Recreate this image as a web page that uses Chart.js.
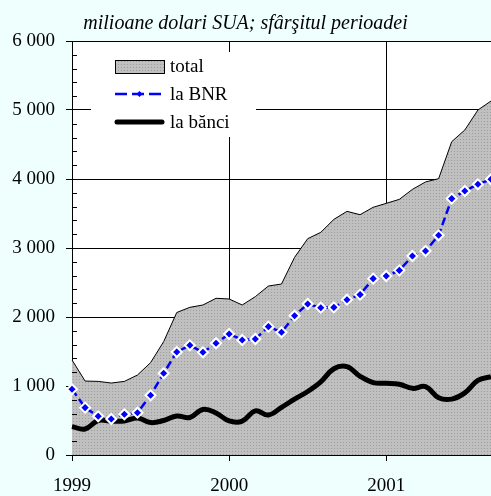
<!DOCTYPE html>
<html>
<head>
<meta charset="utf-8">
<script src="https://cdn.jsdelivr.net/npm/chart.js@4"></script>
<style>
  html, body { margin: 0; background: #eefffd; }
  #wrap { width: 491px; height: 496px; position: relative; }
</style>
</head>
<body>
<div id="wrap"><canvas id="chart"></canvas></div>
<script>
var months = [
  '1999-01', '1999-02', '1999-03', '1999-04', '1999-05', '1999-06', '1999-07', '1999-08', '1999-09', '1999-10', '1999-11', '1999-12',
  '2000-01', '2000-02', '2000-03', '2000-04', '2000-05', '2000-06', '2000-07', '2000-08', '2000-09', '2000-10', '2000-11', '2000-12',
  '2001-01', '2001-02', '2001-03', '2001-04', '2001-05', '2001-06', '2001-07', '2001-08', '2001-09'
];
var totalValues = [1377, 1072, 1067, 1043, 1067, 1159, 1338, 1643, 2065, 2140, 2174, 2271,
  2261, 2174, 2295, 2449, 2478, 2865, 3135, 3227, 3415, 3531, 3483, 3590,
  3647, 3705, 3850, 3957, 4005, 4541, 4710, 5000, 5130];
var bnrValues = [952, 686, 561, 522, 590, 613, 865, 1184, 1493, 1590, 1488, 1619,
  1754, 1667, 1681, 1860, 1778, 2019, 2188, 2135, 2140, 2251, 2324, 2556,
  2594, 2676, 2884, 2957, 3184, 3715, 3826, 3923, 3996];
var bankValues = [411, 377, 500, 490, 493, 536, 470, 500, 565, 543, 660, 609,
  493, 490, 640, 580, 690, 810, 920, 1060, 1250, 1280, 1140, 1050,
  1040, 1025, 966, 990, 830, 810, 900, 1080, 1135];
var seriesNames = ['total', 'la BNR', 'la b\u0103nci'];
var titleText = 'milioane dolari SUA; sf\u00e2r\u015fitul perioadei';

var FONT = '"Liberation Serif", "Times New Roman", serif';
Chart.defaults.font.family = FONT;
Chart.defaults.color = '#000';

// grey dotted fill like the old excel pattern
function makePattern() {
  var p = document.createElement('canvas');
  p.width = 3; p.height = 3;
  var g = p.getContext('2d');
  g.fillStyle = '#c0c0c0';
  g.fillRect(0, 0, 3, 3);
  g.fillStyle = '#9c9c9c';
  g.fillRect(1, 1, 1, 1);
  return g.createPattern(p, 'repeat');
}
var pattern = makePattern();

function isJanuary(i) {
  return months[i] && months[i].slice(5) === '01';
}

var decoPlugin = {
  id: 'deco',
  beforeDraw: function (chart) {
    var a = chart.chartArea, ctx = chart.ctx;
    ctx.save();
    ctx.fillStyle = '#fff';
    ctx.fillRect(a.left, a.top, a.right - a.left, a.bottom - a.top);
    ctx.restore();
  },
  beforeDatasetsDraw: function (chart) {
    // white legend box hides the grid behind it
    var a = chart.chartArea, ctx = chart.ctx;
    ctx.save();
    ctx.fillStyle = '#fff';
    ctx.fillRect(a.left + 19, a.top + 11, 165, 85);
    ctx.restore();
  },
  afterDatasetsDraw: function (chart) {
    var a = chart.chartArea, ctx = chart.ctx, y = chart.scales.y;
    ctx.save();
    ctx.strokeStyle = '#000';
    ctx.lineWidth = 1;
    ctx.beginPath();
    for (var v = 200; v < 6000; v += 200) {
      if (v % 1000 === 0) continue;
      var py = Math.round(y.getPixelForValue(v)) + 0.5;
      ctx.moveTo(a.left, py);
      ctx.lineTo(a.left + 5, py);
    }
    ctx.stroke();
    ctx.restore();
  },
  afterDraw: function (chart) {
    var a = chart.chartArea, ctx = chart.ctx;
    var x0 = a.left + 43, x1 = a.left + 92, tx = a.left + 98;
    var rows = [a.top + 25, a.top + 53, a.top + 81];
    ctx.save();
    // total
    ctx.fillStyle = pattern;
    ctx.fillRect(x0, rows[0] - 6, x1 - x0, 13);
    ctx.strokeStyle = '#000';
    ctx.lineWidth = 1;
    ctx.strokeRect(x0 + 0.5, rows[0] - 6 + 0.5, x1 - x0, 13);
    // la BNR
    ctx.strokeStyle = '#0000ff';
    ctx.lineWidth = 2.5;
    ctx.setLineDash([12, 5]);
    ctx.beginPath();
    ctx.moveTo(x0, rows[1]);
    ctx.lineTo(x1, rows[1]);
    ctx.stroke();
    ctx.setLineDash([]);
    ctx.fillStyle = '#0000ff';
    var mx = (x0 + x1) / 2;
    ctx.beginPath();
    ctx.moveTo(mx, rows[1] - 3);
    ctx.lineTo(mx + 3, rows[1]);
    ctx.lineTo(mx, rows[1] + 3);
    ctx.lineTo(mx - 3, rows[1]);
    ctx.closePath();
    ctx.fill();
    // la banci
    ctx.strokeStyle = '#000';
    ctx.lineWidth = 5;
    ctx.lineCap = 'round';
    ctx.beginPath();
    ctx.moveTo(x0 + 2, rows[2]);
    ctx.lineTo(x1 - 2, rows[2]);
    ctx.stroke();
    // labels
    ctx.fillStyle = '#000';
    ctx.font = '19px ' + FONT;
    ctx.textBaseline = 'middle';
    ctx.textAlign = 'left';
    for (var i = 0; i < seriesNames.length; i++) {
      ctx.fillText(seriesNames[i], tx, rows[i] + 1);
    }
    ctx.restore();
  }
};

new Chart(document.getElementById('chart'), {
  type: 'line',
  data: {
    labels: months,
    datasets: [{
      label: seriesNames[0],
      data: totalValues,
      fill: 'origin',
      backgroundColor: pattern,
      borderColor: '#000',
      borderWidth: 1,
      pointRadius: 0,
      tension: 0,
      order: 3
    }, {
      label: seriesNames[2],
      data: bankValues,
      fill: false,
      borderColor: '#000',
      borderWidth: 5,
      pointRadius: 0,
      tension: 0.4,
      order: 2
    }, {
      label: seriesNames[1],
      data: bnrValues,
      fill: false,
      borderColor: '#0000ff',
      borderWidth: 2.5,
      borderDash: [8, 4],
      pointStyle: 'rectRot',
      pointRadius: 5,
      pointBackgroundColor: '#0000ff',
      pointBorderColor: '#fff',
      pointBorderWidth: 2,
      tension: 0,
      order: 1
    }]
  },
  options: {
    responsive: true,
    maintainAspectRatio: false,
    animation: false,
    layout: { autoPadding: false, padding: 0 },
    plugins: {
      legend: { display: false },
      tooltip: { enabled: false },
      title: {
        display: true,
        text: titleText,
        font: { size: 20, style: 'italic', weight: 'normal', lineHeight: 1.2 },
        color: '#000',
        padding: { top: 12, bottom: 5 }
      }
    },
    scales: {
      x: {
        type: 'category',
        offset: false,
        afterFit: function (s) {
          s.height = 41;
          s.paddingLeft = 0;
          s.paddingRight = 0;
        },
        border: { display: true, color: '#000', width: 1 },
        grid: {
          color: function (c) { return isJanuary(c.index) ? '#000' : 'rgba(0,0,0,0)'; },
          tickColor: function (c) { return isJanuary(c.index) ? '#000' : 'rgba(0,0,0,0)'; },
          tickLength: 6,
          lineWidth: 1
        },
        ticks: {
          autoSkip: false,
          maxRotation: 0,
          padding: 14,
          font: { size: 19 },
          callback: function (v, i) { return isJanuary(i) ? months[i].slice(0, 4) : ''; }
        }
      },
      y: {
        min: 0,
        max: 6000,
        afterFit: function (s) { s.width = 72; },
        border: { display: true, color: '#000', width: 1 },
        grid: { color: '#000', tickColor: '#000', tickLength: 6, lineWidth: 1 },
        ticks: {
          stepSize: 1000,
          padding: 11,
          font: { size: 19 },
          callback: function (v) { return v === 0 ? '0' : (v / 1000) + ' 000'; }
        }
      }
    }
  },
  plugins: [decoPlugin]
});
</script>
</body>
</html>
